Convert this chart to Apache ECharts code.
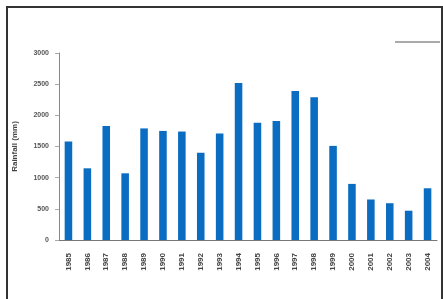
<!DOCTYPE html>
<html>
<head>
<meta charset="utf-8">
<script src="https://cdn.jsdelivr.net/npm/echarts@6/dist/echarts.min.js"></script>
<style>
  html, body { margin: 0; padding: 0; background: #fff; }
  #frame {
    position: absolute; left: 6px; top: 6px; width: 433px; height: 300px;
    border: 2px solid #333; border-bottom: none;
  }
  #chart { position: absolute; left: 0; top: 0; width: 443px; height: 299px; }
</style>
</head>
<body>
<div id="frame"></div>
<div id="chart"></div>
<script>
const years = ["1985", "1986", "1987", "1988", "1989", "1990", "1991", "1992", "1993", "1994",
  "1995", "1996", "1997", "1998", "1999", "2000", "2001", "2002", "2003", "2004"];
const rainfall = [1580, 1150, 1830, 1070, 1790, 1750, 1740, 1400, 1710, 2520,
  1880, 1910, 2390, 2290, 1510, 900, 650, 590, 470, 830];
const yTicks = [0, 500, 1000, 1500, 2000, 2500, 3000];

const chart = echarts.init(document.getElementById("chart"));
const option = {
  backgroundColor: "transparent",
  animation: false,
  grid: { left: 59, right: 6, top: 53, bottom: 59 },
  graphic: [
    { type: "rect", shape: { x: 395, y: 41, width: 45, height: 2 }, style: { fill: "#aaa" } }
  ],
  xAxis: {
    type: "category",
    data: years,
    axisLine: { lineStyle: { color: "#777", width: 1 } },
    axisTick: { show: false },
    axisLabel: {
      rotate: 90,
      fontSize: 8,
      fontWeight: "bold",
      color: "#444",
      fontFamily: "Liberation Sans",
      margin: 13
    }
  },
  yAxis: {
    type: "value",
    min: yTicks[0],
    max: yTicks[yTicks.length - 1],
    interval: 500,
    name: "Rainfall (mm)",
    nameLocation: "middle",
    nameGap: 40,
    nameTextStyle: { fontSize: 8, fontWeight: "bold", color: "#444", fontFamily: "Liberation Sans" },
    axisLine: { show: true, lineStyle: { color: "#888" } },
    axisTick: { show: true, length: 4, lineStyle: { color: "#aaa" } },
    splitLine: { show: false },
    axisLabel: {
      fontSize: 7, fontWeight: "bold", color: "#555", margin: 10, fontFamily: "Liberation Sans",
      formatter: v => String(v)
    }
  },
  series: [
    {
      type: "bar",
      data: rainfall,
      barWidth: "40%",
      itemStyle: { color: "#0a6dc2" }
    }
  ]
};
chart.setOption(option);
</script>
</body>
</html>
